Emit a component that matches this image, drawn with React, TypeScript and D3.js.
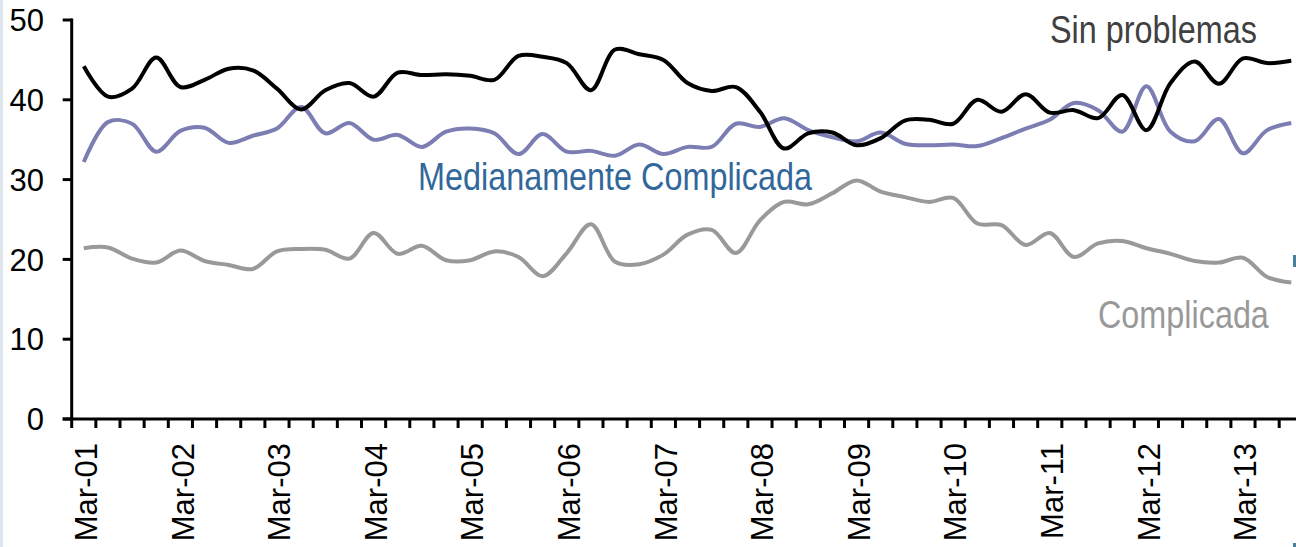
import React, { useEffect, useRef } from "react";
import * as d3 from "d3";

const years = ["01", "02", "03", "04", "05", "06", "07", "08", "09", "10", "11", "12", "13"];
const months = ["Mar", "Jun", "Sep", "Dec"];
const quarters = years.flatMap((y) => months.map((m) => `${m}-${y}`)).slice(0, 51);

const sinProblemas = [
  44.2, 40.4, 41.4, 45.3, 41.6, 42.5, 43.9, 43.7, 41.4, 38.8,
  41.2, 42.1, 40.4, 43.4, 43.1, 43.2, 43.0, 42.5, 45.5, 45.4,
  44.6, 41.2, 46.3, 45.7, 45.0, 42.1, 41.1, 41.6, 38.5, 33.9,
  35.8, 35.9, 34.3, 35.2, 37.4, 37.5, 37.0, 40.0, 38.5, 40.7,
  38.4, 38.7, 37.7, 40.6, 36.2, 42.1, 44.8, 42.0, 45.2, 44.6,
  44.9,
];

const medianamente = [
  32.2, 37.2, 37.0, 33.5, 36.1, 36.5, 34.6, 35.5, 36.4, 39.1,
  35.8, 37.1, 35.0, 35.6, 34.1, 36.0, 36.4, 35.8, 33.2, 35.7,
  33.5, 33.6, 33.0, 34.4, 33.2, 34.1, 34.1, 37.0, 36.6, 37.7,
  36.2, 35.3, 34.8, 35.9, 34.5, 34.3, 34.4, 34.2, 35.2, 36.4,
  37.5, 39.6, 38.7, 36.0, 41.7, 36.0, 34.8, 37.6, 33.3, 36.2,
  37.1,
];

const complicada = [
  21.4, 21.5, 20.1, 19.6, 21.1, 19.8, 19.3, 18.8, 21.0, 21.3,
  21.2, 20.1, 23.3, 20.7, 21.7, 19.9, 19.9, 21.0, 20.3, 17.9,
  20.8, 24.4, 19.7, 19.4, 20.6, 23.1, 23.7, 20.8, 24.9, 27.2,
  26.9, 28.3, 29.9, 28.5, 27.8, 27.2, 27.7, 24.5, 24.3, 21.8,
  23.3, 20.3, 22.0, 22.3, 21.4, 20.7, 19.8, 19.6, 20.2, 17.8,
  17.1,
];

const yTicks = [0, 10, 20, 30, 40, 50];

export default function App() {
  const ref = useRef<SVGSVGElement>(null);

  useEffect(() => {
    const width = 1296,
      height = 547;
    const left = 71.7,
      step = 24.15,
      top = 20,
      bottom = 419;

    const svg = d3.select(ref.current);
    svg.selectAll("*").remove();
    svg.attr("width", width).attr("height", height);

    svg.append("rect").attr("width", width).attr("height", height).attr("fill", "#fff");
    svg.append("rect").attr("width", 3).attr("height", height).attr("fill", "#dde5ef");

    const x = d3
      .scaleBand()
      .domain(quarters)
      .range([left, left + step * quarters.length])
      .paddingInner(0)
      .paddingOuter(0);

    const y = d3.scaleLinear().domain([0, 50]).range([bottom, top]);

    const font = "'Liberation Sans', Arial, sans-serif";

    // y axis
    const yAxis = svg.append("g");
    yAxis
      .append("line")
      .attr("x1", left)
      .attr("x2", left)
      .attr("y1", y(50) - 1.5)
      .attr("y2", y(0))
      .attr("stroke", "#000")
      .attr("stroke-width", 3);
    yAxis
      .selectAll(".yt")
      .data(yTicks)
      .enter()
      .append("line")
      .attr("x1", left - 9)
      .attr("x2", left)
      .attr("y1", (d) => y(d))
      .attr("y2", (d) => y(d))
      .attr("stroke", "#000")
      .attr("stroke-width", 3);
    yAxis
      .selectAll(".yl")
      .data(yTicks)
      .enter()
      .append("text")
      .attr("x", 44)
      .attr("y", (d) => y(d))
      .attr("dy", "0.36em")
      .attr("text-anchor", "end")
      .attr("font-family", font)
      .attr("font-size", 31)
      .attr("fill", "#000")
      .text((d) => d);

    // x axis
    const xAxis = svg.append("g");
    xAxis
      .append("line")
      .attr("x1", left - 9)
      .attr("x2", width)
      .attr("y1", y(0))
      .attr("y2", y(0))
      .attr("stroke", "#000")
      .attr("stroke-width", 3);
    const tickPos = d3.range(quarters.length + 1).map((i) => left + i * x.step());
    xAxis
      .selectAll(".xt")
      .data(tickPos)
      .enter()
      .append("line")
      .attr("x1", (d) => d)
      .attr("x2", (d) => d)
      .attr("y1", y(0))
      .attr("y2", y(0) + 9)
      .attr("stroke", "#000")
      .attr("stroke-width", 3);
    xAxis
      .selectAll(".xl")
      .data(quarters.filter((q) => q.startsWith("Mar")))
      .enter()
      .append("text")
      .attr(
        "transform",
        (d) => `translate(${(x(d) as number) + x.bandwidth() / 2 + 2},443) rotate(-90)`
      )
      .attr("dy", "0.36em")
      .attr("text-anchor", "end")
      .attr("font-family", font)
      .attr("font-size", 31)
      .attr("fill", "#000")
      .text((d) => d);

    const line = d3
      .line<number>()
      .x((_, i) => (x(quarters[i]) as number) + x.bandwidth() / 2)
      .y((d) => y(d))
      .curve(d3.curveCatmullRom);

    const series = [
      { values: complicada, color: "#999999" },
      { values: medianamente, color: "#7b7db3" },
      { values: sinProblemas, color: "#000000" },
    ];

    svg
      .selectAll(".series")
      .data(series)
      .enter()
      .append("path")
      .attr("d", (d) => line(d.values))
      .attr("fill", "none")
      .attr("stroke", (d) => d.color)
      .attr("stroke-width", 4)
      .attr("stroke-linejoin", "round");

    // series names; no narrow face installed, so squeeze the regular one
    const labels = [
      { text: "Sin problemas", x: 1050, y: 43, color: "#404040" },
      { text: "Medianamente Complicada", x: 418, y: 190, color: "#31679b" },
      { text: "Complicada", x: 1098, y: 328, color: "#999999" },
    ];

    svg
      .selectAll(".lbl")
      .data(labels)
      .enter()
      .append("text")
      .attr("transform", (d) => `translate(${d.x},${d.y}) scale(0.83,1)`)
      .attr("font-family", font)
      .attr("font-size", 39)
      .attr("fill", (d) => d.color)
      .text((d) => d.text);

    // small marks at the right edge
    svg.append("rect").attr("x", 1293).attr("y", 255).attr("width", 3).attr("height", 12).attr("fill", "#4a7fa0");
    svg.append("rect").attr("x", 1293).attr("y", 543).attr("width", 3).attr("height", 4).attr("fill", "#4a7fa0");
  }, []);

  return (
    <div style={{ position: "absolute", left: 0, top: 0 }}>
      <svg ref={ref} style={{ display: "block" }}></svg>
    </div>
  );
}
